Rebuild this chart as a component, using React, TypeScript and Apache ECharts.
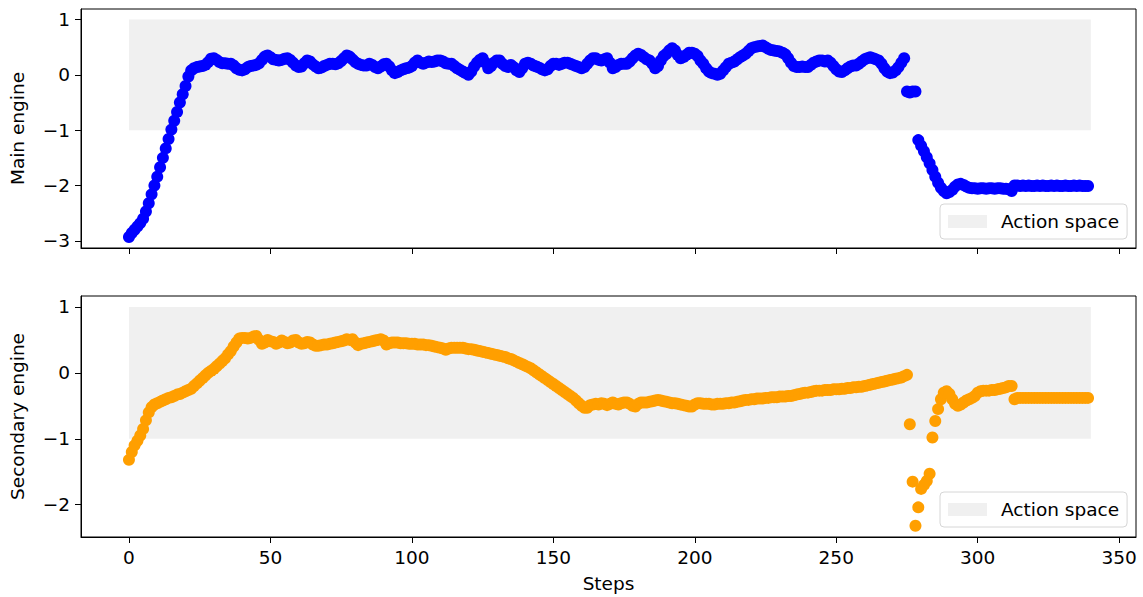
import React, { useEffect, useRef } from "react";
import * as echarts from "echarts";

// Main engine action per step (0..339)
const mainEngine: number[] = [
  -2.93, -2.86, -2.8, -2.74, -2.68, -2.6, -2.47, -2.32, -2.16, -2.0,
  -1.84, -1.67, -1.5, -1.33, -1.16, -0.99, -0.83, -0.67, -0.5, -0.35,
  -0.2, -0.03, 0.08, 0.12, 0.14, 0.15, 0.16, 0.18, 0.23, 0.29,
  0.3, 0.27, 0.23, 0.21, 0.21, 0.2, 0.2, 0.17, 0.12, 0.09,
  0.08, 0.1, 0.14, 0.16, 0.17, 0.18, 0.21, 0.27, 0.33, 0.35,
  0.32, 0.28, 0.27, 0.26, 0.27, 0.29, 0.3, 0.27, 0.22, 0.17,
  0.14, 0.15, 0.21, 0.26, 0.24, 0.19, 0.15, 0.12, 0.13, 0.16,
  0.18, 0.2, 0.2, 0.19, 0.21, 0.25, 0.3, 0.35, 0.33, 0.28,
  0.23, 0.2, 0.18, 0.17, 0.17, 0.2, 0.18, 0.14, 0.12, 0.15,
  0.19, 0.2, 0.15, 0.08, 0.03, 0.05, 0.08, 0.1, 0.12, 0.13,
  0.16, 0.22, 0.26, 0.22, 0.2, 0.22, 0.24, 0.23, 0.24, 0.26,
  0.26, 0.24, 0.21, 0.2, 0.2, 0.16, 0.12, 0.09, 0.06, 0.03,
  0.0, 0.06, 0.15, 0.22, 0.27, 0.3, 0.22, 0.12, 0.16, 0.22,
  0.26, 0.26, 0.2, 0.16, 0.14, 0.18, 0.14, 0.08, 0.05, 0.12,
  0.2, 0.22, 0.2, 0.17, 0.15, 0.13, 0.1, 0.08, 0.1, 0.16,
  0.2, 0.2, 0.18, 0.2, 0.22, 0.22, 0.2, 0.18, 0.16, 0.14,
  0.12, 0.14, 0.2, 0.26, 0.3, 0.3, 0.27, 0.26, 0.28, 0.3,
  0.22, 0.12, 0.14, 0.18, 0.2, 0.2, 0.2, 0.24, 0.3, 0.35,
  0.38, 0.36, 0.32, 0.28, 0.26, 0.2, 0.12, 0.16, 0.26, 0.34,
  0.38, 0.44, 0.48, 0.44, 0.36, 0.3, 0.32, 0.36, 0.4, 0.4,
  0.38, 0.34, 0.26, 0.2, 0.12, 0.06, 0.03, 0.02, 0.0, 0.02,
  0.08, 0.14, 0.2, 0.22, 0.24, 0.28, 0.32, 0.35, 0.38, 0.43,
  0.48, 0.5, 0.51, 0.52, 0.53, 0.5, 0.47, 0.45, 0.44, 0.43,
  0.42, 0.4, 0.37, 0.3, 0.22, 0.16, 0.14, 0.14, 0.15, 0.14,
  0.14, 0.18, 0.22, 0.24, 0.26, 0.26, 0.24, 0.26, 0.22, 0.16,
  0.1, 0.06, 0.05, 0.08, 0.12, 0.15, 0.17, 0.17, 0.2, 0.24,
  0.28, 0.3, 0.32, 0.3, 0.28, 0.26, 0.2, 0.12, 0.06, 0.03,
  0.04, 0.08, 0.14, 0.22, 0.3, -0.3, -0.32, -0.3, -0.3, -1.18,
  -1.28, -1.38, -1.49, -1.6, -1.72, -1.84, -1.95, -2.04, -2.1, -2.14,
  -2.12, -2.08, -2.02, -1.98, -1.97, -1.99, -2.02, -2.04, -2.05, -2.05,
  -2.06, -2.05, -2.05, -2.06, -2.05, -2.05, -2.06, -2.05, -2.05, -2.06,
  -2.06, -2.07, -2.1, -2.0, -2.0, -2.01, -2.0, -2.01, -2.0, -2.01,
  -2.01, -2.0, -2.01, -2.0, -2.01, -2.01, -2.0, -2.01, -2.0, -2.01,
  -2.01, -2.0, -2.01, -2.01, -2.0, -2.01, -2.0, -2.01, -2.01, -2.01,
];

// Secondary engine action per step (0..339)
const secondaryEngine: number[] = [
  -1.32, -1.2, -1.1, -1.03, -0.95, -0.85, -0.72, -0.6, -0.52, -0.48,
  -0.46, -0.44, -0.42, -0.4, -0.38, -0.37, -0.35, -0.33, -0.32, -0.3,
  -0.28, -0.26, -0.24, -0.2, -0.16, -0.12, -0.08, -0.04, 0.0, 0.03,
  0.06, 0.1, 0.14, 0.18, 0.22, 0.28, 0.33, 0.4, 0.46, 0.52,
  0.53, 0.53, 0.52, 0.53, 0.55, 0.56, 0.5, 0.44, 0.46, 0.5,
  0.48, 0.47, 0.44, 0.46, 0.49, 0.47, 0.45, 0.46, 0.49, 0.5,
  0.46, 0.44, 0.45, 0.47, 0.46, 0.43, 0.41, 0.41, 0.42, 0.43,
  0.43, 0.44, 0.45, 0.46, 0.47, 0.48, 0.49, 0.51, 0.5, 0.51,
  0.46, 0.42, 0.44, 0.45, 0.46, 0.47, 0.48, 0.49, 0.5, 0.51,
  0.49, 0.43, 0.45, 0.46, 0.46, 0.46, 0.45, 0.45, 0.45, 0.44,
  0.44, 0.44, 0.43, 0.43, 0.43, 0.42, 0.42, 0.41, 0.4, 0.39,
  0.38, 0.37, 0.35, 0.37, 0.38, 0.38, 0.38, 0.38, 0.38, 0.37,
  0.36, 0.36, 0.35, 0.34, 0.33, 0.32, 0.31, 0.3, 0.29, 0.28,
  0.27, 0.26, 0.25, 0.24, 0.22, 0.21, 0.19, 0.17, 0.15, 0.13,
  0.11, 0.09, 0.07, 0.04, 0.01, -0.02, -0.05, -0.08, -0.11, -0.14,
  -0.17, -0.2, -0.23, -0.26, -0.29, -0.32, -0.35, -0.38, -0.42, -0.46,
  -0.5, -0.53, -0.53, -0.49, -0.48, -0.47, -0.48, -0.46, -0.47, -0.49,
  -0.47, -0.45, -0.47, -0.48, -0.46, -0.45, -0.45, -0.47, -0.5, -0.51,
  -0.47, -0.45, -0.45, -0.45, -0.44, -0.43, -0.42, -0.41, -0.42, -0.43,
  -0.44, -0.45, -0.46, -0.46, -0.47, -0.48, -0.49, -0.5, -0.51, -0.51,
  -0.48, -0.46, -0.46, -0.47, -0.47, -0.47, -0.48, -0.48, -0.47, -0.47,
  -0.47, -0.46, -0.46, -0.45, -0.45, -0.44, -0.43, -0.42, -0.41, -0.41,
  -0.4, -0.4, -0.39, -0.39, -0.39, -0.38, -0.38, -0.37, -0.37, -0.37,
  -0.36, -0.36, -0.36, -0.35, -0.35, -0.34, -0.33, -0.32, -0.31, -0.3,
  -0.3, -0.29, -0.28, -0.27, -0.27, -0.27, -0.26, -0.26, -0.26, -0.25,
  -0.25, -0.25, -0.24, -0.24, -0.23, -0.23, -0.22, -0.22, -0.21, -0.21,
  -0.2, -0.19, -0.18, -0.17, -0.16, -0.15, -0.14, -0.13, -0.12, -0.11,
  -0.1, -0.09, -0.08, -0.07, -0.05, -0.03, -0.78, -1.65, -2.32, -2.04,
  -1.76, -1.7, -1.64, -1.53, -0.98, -0.73, -0.55, -0.4, -0.3, -0.28,
  -0.32, -0.4, -0.47, -0.5, -0.48, -0.45, -0.42, -0.4, -0.38, -0.35,
  -0.3, -0.28, -0.27, -0.27, -0.27, -0.26, -0.26, -0.25, -0.24, -0.23,
  -0.22, -0.2, -0.2, -0.4, -0.38, -0.38, -0.38, -0.38, -0.38, -0.38,
  -0.38, -0.38, -0.38, -0.38, -0.38, -0.38, -0.38, -0.38, -0.38, -0.38,
  -0.38, -0.38, -0.38, -0.38, -0.38, -0.38, -0.38, -0.38, -0.38, -0.38,
];

// Action space band: [xStart, xEnd, yLow, yHigh]
const actionSpace: number[][] = [[0, 340, -1, 1]];

const xTicks = [0, 50, 100, 150, 200, 250, 300, 350];
const mainTicks = [-3, -2, -1, 0, 1];
const secondaryTicks = [-2, -1, 0, 1];

const FONT = "DejaVu Sans";
const FS = 18.5;

const fmt = (v: number) => (v < 0 ? "\u2212" + Math.abs(v) : String(v));

const bandRender = (params: any, api: any) => {
  const p0 = api.coord([api.value(0), api.value(2)]);
  const p1 = api.coord([api.value(1), api.value(3)]);
  return {
    type: "rect",
    shape: { x: p0[0], y: p1[1], width: p1[0] - p0[0], height: p0[1] - p1[1] },
    style: { fill: "#f0f0f0" },
  };
};

export default function App() {
  const ref = useRef<HTMLDivElement>(null);

  useEffect(() => {
    if (!ref.current) return;
    const chart = echarts.init(ref.current, undefined, { renderer: "svg" });

    const baseX = (gridIndex: number, showLabels: boolean) => ({
      gridIndex,
      type: "value",
      min: -16.95,
      max: 355.95,
      axisLine: { show: true, onZero: false, lineStyle: { color: "#000", width: 1 } },
      axisTick: {
        show: true,
        length: 6,
        customValues: xTicks,
        lineStyle: { color: "#000", width: 1 },
      },
      axisLabel: {
        show: showLabels,
        customValues: xTicks,
        margin: 11,
        fontSize: FS,
        color: "#000",
        fontFamily: FONT,
        formatter: fmt,
      },
      splitLine: { show: false },
    });

    const baseY = (gridIndex: number, min: number, max: number, ticks: number[], name: string) => ({
      gridIndex,
      type: "value",
      min,
      max,
      name,
      nameLocation: "middle",
      nameGap: 54,
      nameTextStyle: { fontSize: FS, color: "#000", fontFamily: FONT },
      axisLine: { show: true, onZero: false, lineStyle: { color: "#000", width: 1 } },
      axisTick: {
        show: true,
        length: 6,
        customValues: ticks,
        lineStyle: { color: "#000", width: 1 },
      },
      axisLabel: {
        show: true,
        customValues: ticks,
        margin: 11,
        fontSize: FS,
        color: "#000",
        fontFamily: FONT,
        formatter: fmt,
      },
      splitLine: { show: false },
    });

    const legendBase = {
      left: 940,
      data: [{ name: "Action space", icon: "rect", itemStyle: { color: "#f0f0f0" } }],
      itemWidth: 39,
      itemHeight: 13,
      selectedMode: false,
      backgroundColor: "rgba(255,255,255,0.8)",
      borderColor: "#d6d6d6",
      borderWidth: 1,
      borderRadius: 4,
      padding: [8, 8, 8, 8],
      textStyle: {
        fontSize: FS,
        color: "#000",
        fontFamily: FONT,
        lineHeight: 18,
        padding: [0, 0, 0, 9],
      },
    };

    chart.setOption({
      animation: false,
      backgroundColor: "#fff",
      textStyle: { fontFamily: FONT },
      grid: [
        { left: 80, right: 7, top: 9, height: 239, show: true, borderColor: "#000", borderWidth: 1, backgroundColor: "#fff" },
        { left: 80, right: 7, top: 296, height: 241, show: true, borderColor: "#000", borderWidth: 1, backgroundColor: "#fff" },
      ],
      xAxis: [
        baseX(0, false),
        {
          ...baseX(1, true),
          name: "Steps",
          nameLocation: "middle",
          nameGap: 37,
          nameTextStyle: { fontSize: FS, color: "#000", fontFamily: FONT },
        },
      ],
      yAxis: [
        baseY(0, -3.13, 1.19, mainTicks, "Main engine"),
        baseY(1, -2.49, 1.166, secondaryTicks, "Secondary engine"),
      ],
      legend: [
        { ...legendBase, top: 204 },
        { ...legendBase, top: 492 },
      ],
      series: [
        {
          type: "custom",
          name: "Action space",
          xAxisIndex: 0,
          yAxisIndex: 0,
          renderItem: bandRender,
          encode: { x: [0, 1], y: [2, 3] },
          data: actionSpace,
          itemStyle: { color: "#f0f0f0" },
          silent: true,
          z: 1,
        },
        {
          type: "scatter",
          name: "Main engine",
          xAxisIndex: 0,
          yAxisIndex: 0,
          data: mainEngine.map((v, i) => [i, v]),
          symbolSize: 12,
          itemStyle: { color: "#0000ff", opacity: 1 },
          silent: true,
          z: 2,
        },
        {
          type: "custom",
          name: "Action space",
          xAxisIndex: 1,
          yAxisIndex: 1,
          renderItem: bandRender,
          encode: { x: [0, 1], y: [2, 3] },
          data: actionSpace,
          itemStyle: { color: "#f0f0f0" },
          silent: true,
          z: 1,
        },
        {
          type: "scatter",
          name: "Secondary engine",
          xAxisIndex: 1,
          yAxisIndex: 1,
          data: secondaryEngine.map((v, i) => [i, v]),
          symbolSize: 12,
          itemStyle: { color: "#ff9f00", opacity: 1 },
          silent: true,
          z: 2,
        },
      ],
    });

    return () => chart.dispose();
  }, []);

  return (
    <div
      ref={ref}
      style={{ position: "absolute", left: 0, top: 0, width: 1143, height: 597 }}
    />
  );
}
